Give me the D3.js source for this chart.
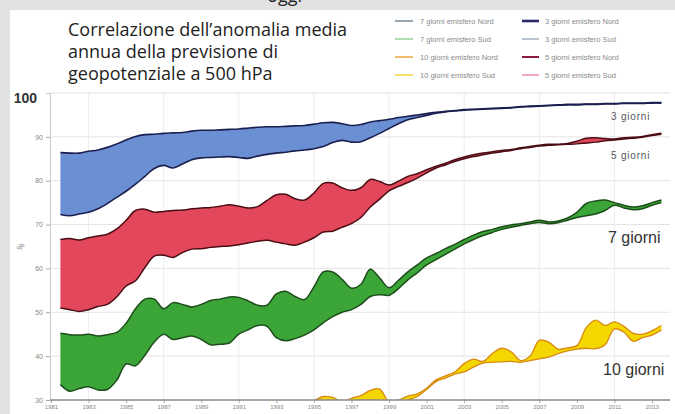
<!DOCTYPE html>
<html><head><meta charset="utf-8">
<script src="https://cdn.jsdelivr.net/npm/d3@7"></script>
<style>html,body{margin:0;padding:0;background:#e2e2e2;}svg{display:block}</style>
</head><body><svg id="c" width="675" height="414"></svg>
<script>
const years = [1981.5,1982,1982.5,1983,1983.5,1984,1984.5,1985,1985.5,1986,
1986.5,1987,1987.5,1988,1988.5,1989,1989.5,1990,1990.5,1991,
1991.5,1992,1992.5,1993,1993.5,1994,1994.5,1995,1995.5,1996,
1996.5,1997,1997.5,1998,1998.5,1999,1999.5,2000,2000.5,2001,
2001.5,2002,2002.5,2003,2003.5,2004,2004.5,2005,2005.5,2006,
2006.5,2007,2007.5,2008,2008.5,2009,2009.5,2010,2010.5,2011,
2011.5,2012,2012.5,2013,2013.5];

const nh3 = [86.4,86.3,86.3,86.7,87.0,87.6,88.4,89.3,90.1,90.5,
90.6,90.8,90.9,91.0,91.3,91.5,91.5,91.6,91.7,91.8,
92.0,92.2,92.3,92.3,92.4,92.5,92.6,92.9,93.2,93.3,
93.0,92.6,92.8,93.4,93.7,94.0,94.4,94.7,95.0,95.3,
95.6,95.8,96.0,96.2,96.3,96.4,96.5,96.6,96.7,96.9,
97.0,97.1,97.2,97.3,97.4,97.4,97.5,97.5,97.6,97.6,
97.7,97.7,97.7,97.8,97.8];
const sh3 = [72.3,72.0,72.4,72.8,73.6,74.8,76.2,77.6,79.2,81.0,
82.8,83.5,82.9,83.8,84.8,85.2,85.3,85.4,85.5,85.3,
85.1,85.6,86.0,86.3,86.5,86.8,87.0,87.3,87.8,88.7,
89.2,88.8,88.9,89.8,90.8,91.9,93.0,93.9,94.4,94.9,
95.4,95.7,95.9,96.1,96.2,96.3,96.4,96.5,96.6,96.8,
96.9,97.0,97.1,97.2,97.3,97.3,97.4,97.4,97.5,97.5,
97.6,97.6,97.6,97.7,97.7];
const nh5 = [66.6,66.8,66.5,67.0,67.4,67.8,69.0,71.0,73.2,73.5,
72.8,73.0,73.2,73.3,73.6,73.8,73.9,74.2,74.5,74.2,
73.8,74.1,75.5,76.8,76.9,75.9,75.6,77.2,79.4,79.5,
78.4,77.8,78.4,80.3,79.8,79.0,79.9,81.0,81.6,82.5,
83.3,84.0,84.8,85.4,85.9,86.3,86.6,86.9,87.1,87.5,
87.8,88.1,88.3,88.3,88.5,89.0,89.7,89.8,89.6,89.5,
89.8,89.9,90.1,90.5,90.8];
const sh5 = [51.0,50.6,50.2,50.6,51.3,51.8,53.5,56.0,57.2,60.2,
62.8,63.0,62.5,63.6,64.4,64.5,64.8,65.0,65.1,65.4,
65.8,66.2,66.4,66.0,65.6,65.3,66.0,67.0,68.3,68.5,
69.4,70.2,71.6,74.0,75.8,77.7,78.7,79.6,80.6,81.8,
82.9,83.6,84.4,85.0,85.5,85.9,86.3,86.6,86.9,87.3,
87.6,87.9,88.1,88.2,88.3,88.4,88.6,88.8,89.1,89.3,
89.5,89.7,89.9,90.3,90.6];
const nh7 = [45.2,44.9,44.8,45.0,44.6,44.9,45.4,47.5,50.8,53.0,
53.0,50.8,52.2,51.8,51.2,51.8,52.7,53.0,53.5,53.4,
52.6,51.6,51.6,54.2,54.8,53.6,52.9,55.8,59.2,59.2,
57.5,55.5,56.4,59.8,57.8,55.6,57.3,59.2,60.8,62.4,
63.4,64.5,65.5,66.6,67.6,68.4,68.9,69.5,69.9,70.2,
70.6,71.0,70.6,70.8,71.5,72.8,74.8,75.4,75.6,75.0,
74.4,74.0,74.3,75.0,75.6];
const sh7 = [33.5,32.0,32.6,33.0,32.3,32.4,34.5,38.2,37.8,40.2,
43.2,45.0,43.8,44.2,44.6,43.8,42.6,42.7,43.0,45.0,
46.0,47.0,46.8,44.2,43.5,44.0,44.8,46.0,47.6,49.0,
50.0,50.6,51.8,53.6,54.0,53.9,55.4,57.4,59.0,60.8,
62.0,63.2,64.4,65.6,66.6,67.5,68.2,68.9,69.4,69.8,
70.2,70.5,70.2,70.4,71.0,71.6,72.0,72.4,73.2,74.4,
73.8,73.4,73.6,74.4,75.0];
const nh10 = [null,null,null,null,null,null,null,null,null,null,
null,null,null,null,null,null,null,null,null,null,
null,null,null,null,null,null,28.5,29.8,30.8,30.6,
29.6,30.4,31.0,32.2,32.5,29.6,30.0,30.9,31.4,32.7,
34.6,35.5,36.4,38.3,39.3,38.8,40.6,41.8,41.0,39.0,
40.0,43.6,43.2,41.6,41.9,42.4,46.5,48.2,47.0,47.8,
46.8,45.2,45.0,45.8,47.0];
const sh10 = [null,null,null,null,null,null,null,null,null,null,
null,null,null,null,null,null,null,null,null,null,
null,null,null,null,null,null,27.0,28.5,29.8,29.8,
28.8,29.5,30.0,30.0,29.8,28.5,29.2,30.0,30.8,32.4,
34.2,35.0,35.9,36.4,37.5,38.4,38.6,38.7,38.8,38.6,
39.0,39.4,39.8,40.6,41.2,41.6,41.8,41.7,42.6,46.2,
45.5,43.4,44.2,44.8,46.0];

const xTicks = [1981,1983,1985,1987,1989,1991,1993,1995,1997,1999,2001,2003,2005,2007,2009,2011,2013];
const gridYears = [1983,1987,1991,1995,1999,2003,2007,2011];
const yTicks = [30,40,50,60,70,80,90,100];
const titleLines = ["Correlazione dell\u2019anomalia media","annua della previsione di","geopotenziale a 500 hPa"];
const legendCol1 = ["7 giorni emisfero Nord","7 giorni emisfero Sud","10 giorni emisfero Nord","10 giorni emisfero Sud"];
const legendCol2 = ["3 giorni emisfero Nord","3 giorni emisfero Sud","5 giorni emisfero Nord","5 giorni emisfero Sud"];
const bandLabels = ["3 giorni","5 giorni","7 giorni","10 giorni"];

const svg = d3.select("#c");
svg.append("rect").attr("width",675).attr("height",414).attr("fill","#e2e2e2");
svg.append("rect").attr("x",10).attr("y",10).attr("width",665).attr("height",404).attr("fill","#fff");
// clipped heading above (cut off in the reference as well)
svg.append("text").attr("x",302).attr("y",2).attr("text-anchor","end")
  .attr("font-family","Open Sans").attr("font-size",18).attr("fill","#222").text("oggi");

const x = d3.scaleLinear().domain([1981,2013]).range([51,652]);
const y = d3.scaleLinear().domain([30,100]).range([400,93]);
const left = 50, right = 670;

// grid
const grid = svg.append("g");
grid.selectAll("line.h").data(yTicks.filter(v=>v>30 && v<100)).join("line")
  .attr("x1",left).attr("x2",right).attr("y1",d=>y(d)).attr("y2",d=>y(d))
  .attr("stroke","#e4e4e4").attr("stroke-width",1);
grid.selectAll("line.v").data(gridYears).join("line")
  .attr("x1",d=>x(d)).attr("x2",d=>x(d)).attr("y1",y(100)).attr("y2",y(30))
  .attr("stroke","#ececec").attr("stroke-width",1);
grid.append("line").attr("x1",left).attr("x2",right).attr("y1",y(100)).attr("y2",y(100))
  .attr("stroke","#e0e0e0");

// clip
svg.append("clipPath").attr("id","pc").append("rect")
  .attr("x",left).attr("y",y(100)).attr("width",right-left).attr("height",y(30)-y(100));

const bands = [
  {nh:nh3, sh:sh3, fill:"#6b8fd3", line:"#1b1f4f", w:1.6},
  {nh:nh5, sh:sh5, fill:"#e2475b", line:"#4a0d14", w:1.5},
  {nh:nh7, sh:sh7, fill:"#3ca537", line:"#1d4d1a", w:1.5},
  {nh:nh10, sh:sh10, fill:"#f4d700", line:"#d88a12", w:1.3}
];
const idx = years.map((d,i)=>i);
const plot = svg.append("g").attr("clip-path","url(#pc)");
bands.forEach(b=>{
  const def = i => b.nh[i]!=null && b.sh[i]!=null;
  const area = d3.area().defined(def).x(i=>x(years[i])).y0(i=>y(b.sh[i])).y1(i=>y(b.nh[i])).curve(d3.curveCatmullRom);
  plot.append("path").attr("d",area(idx)).attr("fill",b.fill);
  [b.nh,b.sh].forEach(s=>{
    const ln = d3.line().defined(def).x(i=>x(years[i])).y(i=>y(s[i])).curve(d3.curveCatmullRom);
    plot.append("path").attr("d",ln(idx)).attr("fill","none").attr("stroke",b.line)
      .attr("stroke-width",b.w).attr("stroke-linejoin","round");
  });
});

// y axis
const ya = svg.append("g").attr("transform",`translate(${left},0)`)
  .call(d3.axisLeft(y).tickValues(yTicks).tickSize(4).tickPadding(3));
ya.select(".domain").attr("stroke","#c8c8c8");
ya.selectAll(".tick line").attr("stroke","#aaa");
ya.selectAll(".tick text").attr("font-family","Liberation Sans").attr("font-size",7).attr("fill","#888");
ya.selectAll(".tick").filter(d=>d===100).each(function(){
  d3.select(this).select("line").remove();
  d3.select(this).select("text").attr("x",-13).attr("dy","0.75em").attr("y",-1)
    .attr("font-size",14).attr("font-weight","bold").attr("fill","#333");
});
svg.append("text").attr("transform","translate(23,248) rotate(-60)").attr("text-anchor","middle")
  .attr("font-family","Liberation Sans").attr("font-size",8).attr("fill","#777").text("%");

// x axis
const xa = svg.append("g").attr("transform",`translate(0,${y(30)})`)
  .call(d3.axisBottom(x).tickValues(xTicks).tickFormat(d3.format("d")).tickSize(3).tickPadding(2));
xa.select(".domain").remove();
xa.selectAll(".tick line").attr("stroke","#aaa");
xa.selectAll(".tick text").attr("font-family","Liberation Sans").attr("font-size",6).attr("fill","#888");
svg.append("line").attr("x1",left).attr("x2",right).attr("y1",y(30)).attr("y2",y(30))
  .attr("stroke","#8a8a8a").attr("stroke-width",1.5);

// title
svg.append("g").selectAll("text").data(titleLines).join("text")
  .attr("x",68).attr("y",(d,i)=>36+i*22)
  .attr("font-family","Open Sans").attr("font-size",18).attr("fill","#1e1e1e").text(d=>d);

// legend
const leg1Colors = ["#6f8290","#8fd08f","#e8a030","#f0d030"];
const leg2Colors = ["#2a2a6a","#8c9ab4","#8a1a3a","#e4708a"];
const leg2Widths = [2.6,1.2,2,1.2];
const lg = svg.append("g").attr("font-family","Liberation Sans").attr("font-size",7.5).attr("fill","#8a8a8a");
legendCol1.forEach((t,i)=>{
  const yy = 21 + i*18;
  lg.append("line").attr("x1",395).attr("x2",413).attr("y1",yy).attr("y2",yy)
    .attr("stroke",leg1Colors[i]).attr("stroke-width",1.4);
  lg.append("text").attr("x",420).attr("y",yy+2.5).text(t);
});
legendCol2.forEach((t,i)=>{
  const yy = 21 + i*18;
  lg.append("line").attr("x1",522).attr("x2",539).attr("y1",yy).attr("y2",yy)
    .attr("stroke",leg2Colors[i]).attr("stroke-width",leg2Widths[i]);
  lg.append("text").attr("x",545).attr("y",yy+2.5).text(t);
});

// band labels
const lab = svg.append("g").attr("font-family","Liberation Sans");
lab.append("text").attr("x",611).attr("y",120).attr("font-size",10).attr("letter-spacing",0.8).attr("fill","#555").text(bandLabels[0]);
lab.append("text").attr("x",611).attr("y",159).attr("font-size",10).attr("letter-spacing",0.8).attr("fill","#555").text(bandLabels[1]);
lab.append("text").attr("x",608).attr("y",243).attr("font-size",16).attr("fill","#333").text(bandLabels[2]);
lab.append("text").attr("x",603).attr("y",375).attr("font-size",16).attr("fill","#333").text(bandLabels[3]);
</script></body></html>
